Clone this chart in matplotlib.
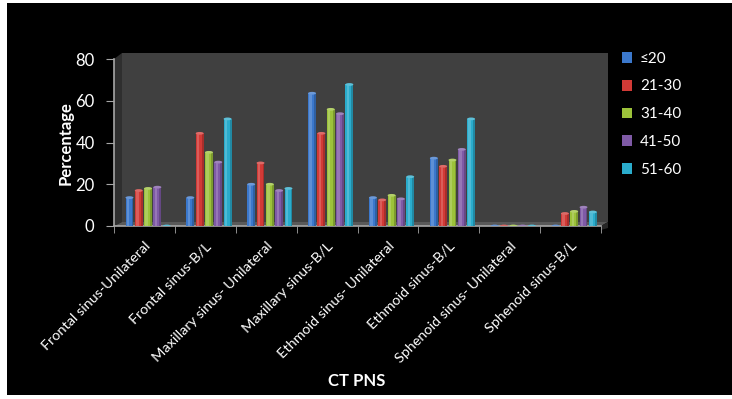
import numpy as np
import matplotlib
matplotlib.use("Agg")
import matplotlib.pyplot as plt
from matplotlib.patches import Rectangle, Polygon, Ellipse

plt.rcParams['font.family'] = ['Lato', 'DejaVu Sans']

categories = ["Frontal sinus-Unilateral", "Frontal sinus-B/L", "Maxillary sinus- Unilateral",
              "Maxillary sinus-B/L", "Ethmoid sinus- Unilateral", "Ethmoid sinus-B/L",
              "Sphenoid sinus- Unilateral", "Sphenoid sinus-B/L"]
series = ["\u226420", "21-30", "31-40", "41-50", "51-60"]
le20 = [13.6, 13.6, 20.0, 63.6, 13.6, 32.5, 0, 0]
a21_30 = [17.0, 44.4, 30.2, 44.4, 12.5, 28.6, 0, 6.0]
a31_40 = [18.0, 35.3, 20.0, 55.9, 14.7, 31.6, 0, 7.0]
a41_50 = [18.6, 30.6, 17.0, 53.8, 13.0, 36.7, 0, 9.0]
a51_60 = [0, 51.3, 18.0, 67.8, 23.6, 51.3, 0, 6.7]
values = [le20, a21_30, a31_40, a41_50, a51_60]
colors = ["#3b78cc", "#d23a36", "#9cc23a", "#7f5aa6", "#2aaccc"]

W, H = 732, 399
fig = plt.figure(figsize=(W / 100, H / 100), dpi=100, facecolor="white")


def fx(x):
    return x / W


def fy(y):
    return 1 - y / H


def poly(pts, color, z):
    p = Polygon([(fx(a), fy(b)) for a, b in pts], closed=True, transform=fig.transFigure,
                facecolor=color, edgecolor="none", zorder=z)
    fig.patches.append(p)


# black panel
fig.patches.append(Rectangle((fx(7), fy(395)), fx(W - 7), fy(3) - fy(395),
                             transform=fig.transFigure, facecolor="black", edgecolor="none", zorder=-3))
# 3d walls
poly([(122, 53), (608, 53), (608, 222), (122, 222)], "#404040", -2)
poly([(114, 59), (122, 53), (122, 222), (114, 226)], "#2f2f2f", -2)
poly([(114, 226), (122, 222), (608, 222), (601, 226)], "#595959", -2)
poly([(601, 226), (608, 222), (608, 228), (601, 230)], "#262626", -2)

ax = fig.add_axes([fx(114), fy(226), fx(601) - fx(114), fy(59) - fy(226)])
ax.set_facecolor("none")
ax.set_xlim(-0.5, len(categories) - 0.5)
ax.set_ylim(0, 80)

x = np.arange(len(categories))
pitch = 0.153
bw = 0.13
for j, (vals, c) in enumerate(zip(values, colors)):
    xs = x + (j - 2) * pitch + 0.06
    ax.bar(xs, vals, width=bw, color=c, edgecolor="none", zorder=3)
    # cylinder shading
    ax.bar(xs - bw * 0.18, vals, width=bw * 0.3, color="white", alpha=0.18, edgecolor="none", zorder=4)
    ax.bar(xs + bw * 0.38, vals, width=bw * 0.24, color="black", alpha=0.2, edgecolor="none", zorder=4)
    for xi, v in zip(xs, vals):
        ax.add_patch(Ellipse((xi, v), bw, 1.3, facecolor=c, edgecolor="none", zorder=5))
        ax.add_patch(Ellipse((xi, v), bw, 1.3, facecolor="white", alpha=0.25, edgecolor="none", zorder=6))

for s in ["top", "right"]:
    ax.spines[s].set_visible(False)
for s in ["left", "bottom"]:
    ax.spines[s].set_color("#a6a6a6")
    ax.spines[s].set_linewidth(1.2)

ax.set_yticks([0, 20, 40, 60, 80])
ax.tick_params(axis="y", colors="#a6a6a6", labelcolor="white", labelsize=12, length=6, pad=8)
ax.set_xticks(x)
ax.set_xticklabels(categories, rotation=45, ha="right", rotation_mode="anchor",
                   color="white", fontsize=10.4)
ax.tick_params(axis="x", length=0, pad=10)
ax.set_xticks(np.arange(len(categories) + 1) - 0.5, minor=True)
ax.tick_params(axis="x", which="minor", length=5, colors="#a6a6a6")

fig.text(fx(66), fy(143), "Percentage", rotation=90, ha="center", va="center",
         color="white", fontsize=12, fontweight="bold")
fig.text(fx(357), fy(381), "CT PNS", ha="center", va="center",
         color="white", fontsize=12, fontweight="bold")

handles = [Rectangle((0, 0), 1, 1, facecolor=c, edgecolor="none") for c in colors]
leg = fig.legend(handles, series, loc="upper left", bbox_to_anchor=(fx(608), fy(38)),
                 frameon=False, fontsize=11, labelcolor="white", handlelength=0.7,
                 handleheight=0.7, handletextpad=0.5, labelspacing=0.9)

fig.savefig("out.png", dpi=100, facecolor=fig.get_facecolor())
